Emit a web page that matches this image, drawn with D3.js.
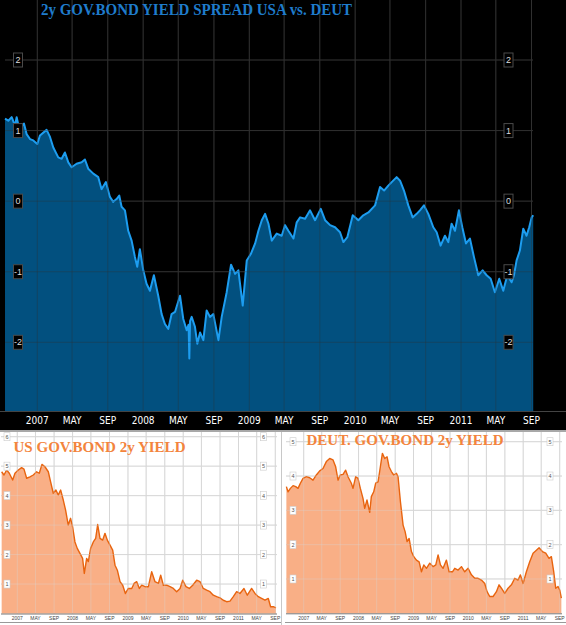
<!DOCTYPE html>
<meta charset="utf-8">
<script src="https://d3js.org/d3.v7.min.js"></script>
<style>
  body { margin: 0; background: #fff; }
  svg { display: block; }
</style>
<div id="my_dataviz"></div>

<script>

// ---- data (dates as decimal years) ----
var spreadYears = [2006.695,2006.726,2006.758,2006.789,2006.805,2006.830,2006.874,2006.899,2006.931,2006.962,
  2007.000,2007.025,2007.088,2007.120,2007.151,2007.198,2007.230,2007.261,2007.293,2007.324,
  2007.371,2007.419,2007.450,2007.481,2007.529,2007.576,2007.607,2007.648,2007.686,2007.717,
  2007.749,2007.774,2007.796,2007.828,2007.859,2007.891,2007.922,2007.944,2007.969,2008.001,
  2008.032,2008.064,2008.101,2008.142,2008.174,2008.205,2008.237,2008.268,2008.300,2008.347,
  2008.378,2008.410,2008.428,2008.435,2008.442,2008.457,2008.488,2008.510,2008.536,2008.567,
  2008.598,2008.630,2008.661,2008.709,2008.740,2008.787,2008.828,2008.866,2008.897,2008.938,
  2008.976,2009.014,2009.055,2009.086,2009.118,2009.149,2009.181,2009.212,2009.259,2009.306,
  2009.338,2009.369,2009.417,2009.448,2009.480,2009.527,2009.574,2009.621,2009.675,2009.716,
  2009.763,2009.810,2009.857,2009.889,2009.926,2009.977,2010.030,2010.077,2010.125,2010.188,
  2010.235,2010.273,2010.313,2010.345,2010.392,2010.424,2010.461,2010.502,2010.543,2010.581,
  2010.612,2010.650,2010.691,2010.738,2010.770,2010.807,2010.848,2010.880,2010.911,2010.943,
  2010.980,2011.012,2011.047,2011.084,2011.122,2011.163,2011.204,2011.242,2011.280,2011.320,
  2011.361,2011.399,2011.437,2011.478,2011.500,2011.525,2011.556,2011.588,2011.619,2011.644,
  2011.667,2011.682];
var spreadValues = [1.17,1.14,1.19,1.07,1.19,1.02,1.10,0.95,0.88,0.86,
  0.81,0.93,1.01,0.91,0.76,0.62,0.60,0.69,0.55,0.48,
  0.53,0.55,0.59,0.46,0.39,0.34,0.17,0.27,0.06,-0.01,
  0.03,0.08,-0.08,-0.13,-0.42,-0.56,-0.79,-0.93,-0.68,-0.98,
  -1.17,-1.27,-1.05,-1.34,-1.60,-1.74,-1.81,-1.60,-1.57,-1.34,
  -1.67,-1.83,-1.75,-2.23,-1.70,-1.64,-1.78,-2.02,-1.86,-1.97,
  -1.55,-1.64,-1.60,-1.97,-1.64,-1.29,-0.90,-1.03,-0.98,-1.48,
  -0.84,-0.75,-0.60,-0.42,-0.27,-0.18,-0.32,-0.56,-0.46,-0.49,
  -0.34,-0.42,-0.53,-0.30,-0.23,-0.25,-0.13,-0.27,-0.11,-0.27,
  -0.34,-0.37,-0.44,-0.58,-0.51,-0.20,-0.27,-0.20,-0.16,-0.06,
  0.20,0.15,0.22,0.27,0.34,0.29,0.15,-0.06,-0.23,-0.18,
  -0.13,-0.06,-0.18,-0.37,-0.44,-0.63,-0.49,-0.58,-0.32,-0.42,
  -0.13,-0.37,-0.60,-0.53,-0.79,-1.05,-0.98,-1.05,-1.10,-1.29,
  -1.10,-1.27,-1.05,-1.15,-1.05,-0.84,-0.70,-0.39,-0.49,-0.37,
  -0.23,-0.20];

var usYears = [2006.717,2006.759,2006.807,2006.855,2006.916,2006.958,2007.018,2007.078,2007.121,2007.169,
  2007.229,2007.289,2007.350,2007.398,2007.446,2007.500,2007.561,2007.603,2007.651,2007.699,
  2007.741,2007.784,2007.832,2007.874,2007.922,2007.964,2008.001,2008.043,2008.085,2008.133,
  2008.181,2008.212,2008.254,2008.284,2008.326,2008.374,2008.417,2008.453,2008.495,2008.543,
  2008.585,2008.627,2008.676,2008.724,2008.766,2008.808,2008.857,2008.905,2008.953,2009.007,
  2009.068,2009.110,2009.158,2009.206,2009.248,2009.309,2009.369,2009.429,2009.489,2009.550,
  2009.592,2009.640,2009.700,2009.761,2009.821,2009.881,2009.942,2009.990,2010.050,2010.110,
  2010.171,2010.243,2010.303,2010.363,2010.424,2010.484,2010.544,2010.605,2010.665,2010.725,
  2010.785,2010.846,2010.906,2010.966,2011.026,2011.099,2011.159,2011.237,2011.298,2011.358,
  2011.418,2011.479,2011.539,2011.581,2011.629,2011.678];
var usValues = [4.81,4.70,4.87,4.76,4.53,4.76,4.87,4.95,4.90,4.59,
  4.64,4.70,4.81,4.76,5.06,4.98,4.81,4.47,4.08,4.19,
  4.02,4.19,3.85,3.51,3.00,3.23,2.94,2.43,2.21,2.04,
  1.87,1.36,1.87,1.76,2.21,2.43,2.55,3.02,2.55,2.49,
  2.72,2.49,2.32,2.15,1.64,1.47,1.08,0.96,0.68,0.85,
  0.85,1.02,1.08,0.85,0.96,0.91,0.91,1.42,1.08,1.02,
  1.30,0.96,0.96,0.91,0.85,0.74,0.85,1.13,0.91,0.85,
  0.96,1.13,1.08,0.85,0.79,0.74,0.62,0.57,0.53,0.45,
  0.40,0.42,0.57,0.74,0.68,0.85,0.62,0.85,0.68,0.57,
  0.51,0.45,0.51,0.23,0.23,0.19];

var deYears = [2006.684,2006.714,2006.757,2006.806,2006.854,2006.897,2006.939,2006.988,2007.049,2007.109,
  2007.170,2007.231,2007.292,2007.352,2007.413,2007.474,2007.535,2007.583,2007.626,2007.668,
  2007.717,2007.765,2007.808,2007.869,2007.899,2007.948,2007.990,2008.033,2008.081,2008.112,
  2008.154,2008.203,2008.233,2008.276,2008.312,2008.355,2008.397,2008.434,2008.476,2008.519,
  2008.555,2008.598,2008.640,2008.689,2008.719,2008.762,2008.810,2008.847,2008.883,2008.920,
  2008.962,2009.005,2009.053,2009.102,2009.145,2009.187,2009.236,2009.296,2009.357,2009.406,
  2009.448,2009.491,2009.539,2009.600,2009.649,2009.710,2009.752,2009.813,2009.874,2009.934,
  2009.995,2010.056,2010.117,2010.177,2010.238,2010.299,2010.341,2010.390,2010.451,2010.512,
  2010.560,2010.603,2010.663,2010.724,2010.785,2010.846,2010.906,2010.949,2010.998,2011.058,
  2011.119,2011.180,2011.241,2011.289,2011.350,2011.411,2011.471,2011.514,2011.557,2011.593,
  2011.635,2011.666,2011.696];
var deValues = [3.69,3.54,3.64,3.72,3.69,3.64,3.79,3.93,3.98,3.95,
  3.88,4.03,4.15,4.22,4.42,4.51,4.47,4.27,3.88,4.03,
  4.05,4.17,3.98,3.79,3.64,3.98,3.93,3.64,3.35,3.06,
  3.30,2.94,3.40,3.54,3.79,3.83,4.27,4.66,4.51,4.56,
  4.27,4.13,4.03,4.08,3.98,3.25,2.57,2.38,2.09,2.18,
  1.80,1.65,1.55,1.50,1.21,1.41,1.31,1.46,1.36,1.41,
  1.70,1.41,1.31,1.55,1.21,1.21,1.31,1.26,1.36,1.21,
  1.31,1.12,1.02,1.02,0.97,0.87,0.63,0.49,0.49,0.63,
  0.83,0.73,0.58,0.73,0.83,1.02,0.97,1.12,0.87,1.21,
  1.50,1.75,1.84,1.91,1.80,1.75,1.60,1.65,1.21,0.73,
  0.78,0.68,0.44];

// x ticks every four months, Jan 2007 .. Sep 2011
var tickLabels = ["2007","MAY","SEP","2008","MAY","SEP","2009","MAY","SEP",
                  "2010","MAY","SEP","2011","MAY","SEP"];
var spreadTicks = [-2, -1, 0, 1, 2];
var usTicks = [1, 2, 3, 4, 5, 6];
var deTicks = [1, 2, 3, 4, 5];

// decimal year -> Date
function toDate(y) {
  var yr = Math.floor(y);
  var start = new Date(yr, 0, 1), end = new Date(yr + 1, 0, 1);
  return new Date(+start + (y - yr) * (end - start));
}
function makeSeries(years, values) {
  return years.map(function(y, i) { return {date: toDate(y), value: values[i]}; });
}

var tickDates = d3.timeMonth.every(4).range(new Date(2007, 0, 1), new Date(2011, 8, 2));

var svg = d3.select("#my_dataviz")
  .append("svg")
    .attr("width", 566)
    .attr("height", 625);

// ================= top panel: spread =================
var spreadBox = {left: 5, right: 533, top: 0, bottom: 411};
var x = d3.scaleTime()
  .domain([new Date(2007, 0, 1), new Date(2011, 8, 1)])
  .range([37.3, 531.5]);
var y = d3.scaleLinear()
  .domain([-2, 2])
  .range([342.3, 60]);

svg.append("rect")
  .attr("x", 0).attr("y", 0)
  .attr("width", 566).attr("height", 431)
  .attr("fill", "#000");

function spreadGrid(g, opacity) {
  g.selectAll(".vx")
    .data(tickDates)
    .enter().append("line")
      .attr("x1", function(d) { return x(d); })
      .attr("x2", function(d) { return x(d); })
      .attr("y1", spreadBox.top).attr("y2", spreadBox.bottom)
      .attr("stroke", "#303030").attr("stroke-opacity", opacity);
  g.selectAll(".hy")
    .data(spreadTicks)
    .enter().append("line")
      .attr("x1", spreadBox.left).attr("x2", spreadBox.right)
      .attr("y1", function(d) { return y(d); })
      .attr("y2", function(d) { return y(d); })
      .attr("stroke", "#303030").attr("stroke-opacity", opacity);
}
spreadGrid(svg.append("g"), 1);

var spread = makeSeries(spreadYears, spreadValues);
svg.append("path")
  .datum(spread)
  .attr("fill", "#02507f")
  .attr("d", d3.area()
    .x(function(d) { return x(d.date); })
    .y0(spreadBox.bottom)
    .y1(function(d) { return y(d.value); }));
svg.append("path")
  .datum(spread)
  .attr("fill", "none")
  .attr("stroke", "#1d9df0")
  .attr("stroke-width", 2)
  .attr("stroke-linejoin", "round")
  .attr("d", d3.line()
    .x(function(d) { return x(d.date); })
    .y(function(d) { return y(d.value); }));
spreadGrid(svg.append("g"), 0.35);

// value boxes on both sides
[18, 508.5].forEach(function(cx) {
  var lab = svg.append("g").selectAll("g")
    .data(spreadTicks)
    .enter().append("g")
      .attr("transform", function(d) { return "translate(" + cx + "," + y(d) + ")"; });
  lab.append("rect")
    .attr("x", -4.5).attr("y", -7)
    .attr("width", 9).attr("height", 14)
    .attr("fill", "#000").attr("stroke", "#4a4a4a");
  lab.append("text")
    .attr("text-anchor", "middle")
    .attr("dy", "0.35em")
    .attr("fill", "#ddd")
    .style("font", "9px 'Liberation Sans Narrow', 'Liberation Sans', sans-serif")
    .text(function(d) { return d; });
});

// axis band below the area
svg.append("line")
  .attr("x1", 0).attr("x2", 566)
  .attr("y1", 411.5).attr("y2", 411.5)
  .attr("stroke", "#444");
svg.append("g").selectAll("text")
  .data(tickDates)
  .enter().append("text")
    .attr("x", function(d) { return x(d); })
    .attr("y", 424)
    .attr("text-anchor", "middle")
    .attr("fill", "#fff")
    .style("font", "10px 'Liberation Sans Narrow', 'DejaVu Sans Condensed', sans-serif")
    .text(function(d, i) { return tickLabels[i]; });
svg.append("rect")
  .attr("x", 0).attr("y", 430)
  .attr("width", 566).attr("height", 2)
  .attr("fill", "#a8a8a8");

svg.append("text")
  .attr("x", 41)
  .attr("y", 15)
  .attr("fill", "#1f7ccc")
  .attr("textLength", 311)
  .attr("lengthAdjust", "spacingAndGlyphs")
  .style("font", "bold 16.5px 'Liberation Serif', serif")
  .text("2y GOV.BOND YIELD SPREAD USA vs. DEUT");

// ================= bottom panels =================
function drawYield(opts) {
  var bx = d3.scaleTime()
    .domain([new Date(2007, 0, 1), new Date(2011, 8, 1)])
    .range(opts.xRange);
  var by = d3.scaleLinear()
    .domain([0, opts.ticks[opts.ticks.length - 1]])
    .range(opts.yRange);
  var g = svg.append("g");

  function grid(opacity) {
    g.append("g").selectAll("line")
      .data(tickDates)
      .enter().append("line")
        .attr("x1", function(d) { return bx(d); })
        .attr("x2", function(d) { return bx(d); })
        .attr("y1", 432).attr("y2", by(0))
        .attr("stroke", "#d8d8d8").attr("stroke-opacity", opacity);
    g.append("g").selectAll("line")
      .data(opts.ticks)
      .enter().append("line")
        .attr("x1", opts.left).attr("x2", opts.right)
        .attr("y1", function(d) { return by(d); })
        .attr("y2", function(d) { return by(d); })
        .attr("stroke", "#d8d8d8").attr("stroke-opacity", opacity);
  }
  grid(1);

  var series = makeSeries(opts.years, opts.values);
  g.append("path")
    .datum(series)
    .attr("fill", "#f9af86")
    .attr("d", d3.area()
      .x(function(d) { return bx(d.date); })
      .y0(by(0))
      .y1(function(d) { return by(d.value); }));
  g.append("path")
    .datum(series)
    .attr("fill", "none")
    .attr("stroke", "#e8640f")
    .attr("stroke-width", 1.4)
    .attr("stroke-linejoin", "round")
    .attr("d", d3.line()
      .x(function(d) { return bx(d.date); })
      .y(function(d) { return by(d.value); }));
  grid(0.35);

  opts.labelX.forEach(function(cx) {
    var lab = g.append("g").selectAll("g")
      .data(opts.ticks)
      .enter().append("g")
        .attr("transform", function(d) { return "translate(" + cx + "," + by(d) + ")"; });
    lab.append("rect")
      .attr("x", -3).attr("y", -4)
      .attr("width", 6).attr("height", 8)
      .attr("fill", "#fff").attr("stroke", "#ccc").attr("stroke-width", 0.6);
    lab.append("text")
      .attr("text-anchor", "middle")
      .attr("dy", "0.35em")
      .attr("fill", "#555")
      .style("font", "5.5px 'Liberation Sans', sans-serif")
      .text(function(d) { return d; });
  });

  // x axis
  g.append("line")
    .attr("x1", opts.left).attr("x2", opts.right)
    .attr("y1", by(0) + 0.5).attr("y2", by(0) + 0.5)
    .attr("stroke", "#777");
  g.append("g").selectAll("text")
    .data(tickDates)
    .enter().append("text")
      .attr("x", function(d) { return bx(d); })
      .attr("y", 620)
      .attr("text-anchor", "middle")
      .attr("fill", "#444")
      .style("font", "5px 'Liberation Sans', sans-serif")
      .text(function(d, i) { return tickLabels[i]; });
  g.append("line")
    .attr("x1", opts.left - 1).attr("x2", opts.right + 4)
    .attr("y1", 622.5).attr("y2", 622.5)
    .attr("stroke", "#999");

  g.append("text")
    .attr("x", opts.titleX)
    .attr("y", opts.titleY)
    .attr("fill", "#f3843c")
    .attr("textLength", opts.titleW)
    .attr("lengthAdjust", "spacingAndGlyphs")
    .style("font", "bold 15.5px 'Liberation Serif', serif")
    .text(opts.title);
}

drawYield({
  years: usYears, values: usValues, ticks: usTicks,
  xRange: [17.3, 275.3], yRange: [613.5, 436.7],
  left: 1, right: 277, labelX: [7, 263.5],
  title: "US GOV.BOND 2y YIELD", titleX: 13.5, titleY: 451.5, titleW: 172
});
drawYield({
  years: deYears, values: deValues, ticks: deTicks,
  xRange: [303.7, 559.7], yRange: [613.3, 441.7],
  left: 286, right: 562, labelX: [293, 550],
  title: "DEUT. GOV.BOND 2y YIELD", titleX: 306.5, titleY: 444.5, titleW: 197
});

// divider between the two lower panels
svg.append("line")
  .attr("x1", 281.5).attr("x2", 281.5)
  .attr("y1", 432).attr("y2", 625)
  .attr("stroke", "#c8c8c8");

</script>
